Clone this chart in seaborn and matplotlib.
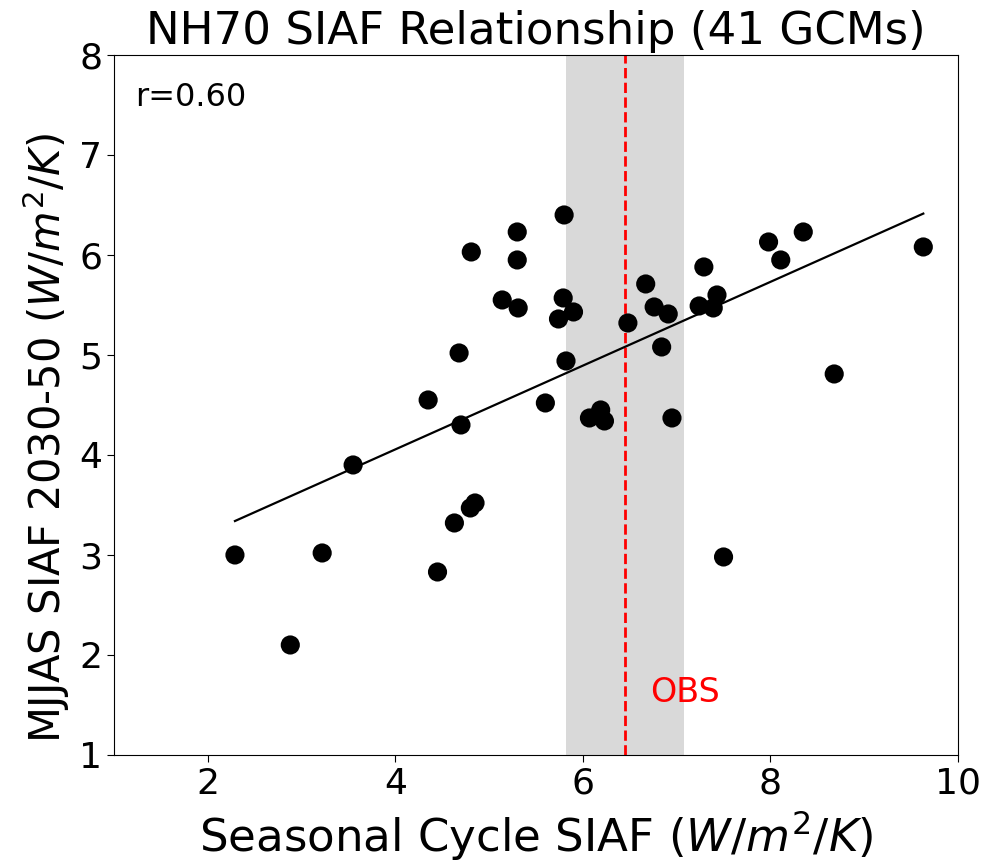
import numpy as np
import pandas as pd
import matplotlib
matplotlib.use("Agg")
import matplotlib.pyplot as plt
import seaborn as sns

# Seasonal-cycle SIAF per model (W/m2/K)
seasonal_siaf = [5.30, 4.81, 5.30, 5.14, 5.31, 4.68, 4.35, 5.60,
                 4.70, 3.55, 4.85, 4.80, 4.63, 2.29, 3.22, 4.45, 2.88,
                 5.80, 5.79, 5.90, 5.74, 5.82, 6.07, 6.19, 6.23, 6.48,
                 6.67, 6.76, 6.91, 6.84, 6.95, 7.29, 7.24, 7.43, 7.39,
                 7.98, 8.11, 8.35, 8.68, 9.63, 7.50]
# MJJAS 2030-50 SIAF per model (W/m2/K)
mjjas_siaf = [6.23, 6.03, 5.95, 5.55, 5.47, 5.02, 4.55, 4.52,
              4.30, 3.90, 3.52, 3.47, 3.32, 3.00, 3.02, 2.83, 2.10,
              6.40, 5.57, 5.43, 5.36, 4.94, 4.37, 4.45, 4.34, 5.32,
              5.71, 5.48, 5.41, 5.08, 4.37, 5.88, 5.49, 5.60, 5.47,
              6.13, 5.95, 6.23, 4.81, 6.08, 2.98]

# Observational estimate and its uncertainty range
obs_value = 6.45
obs_low, obs_high = 5.82, 7.08

df = pd.DataFrame({"seasonal": seasonal_siaf, "mjjas": mjjas_siaf})
r_value = np.corrcoef(df["seasonal"], df["mjjas"])[0, 1]

fig = plt.figure(figsize=(9.86, 8.67), dpi=100)
ax = fig.add_axes([0.1156, 0.1292, 0.856, 0.8074])

ax.axvspan(obs_low, obs_high, color="#d9d9d9", zorder=0, lw=0)
ax.axvline(obs_value, color="red", ls="--", lw=2, zorder=1)

sns.regplot(data=df, x="seasonal", y="mjjas", ax=ax, ci=None,
            scatter=False, truncate=True,
            line_kws={"color": "black", "lw": 1.6, "zorder": 2})
sns.scatterplot(data=df, x="seasonal", y="mjjas", ax=ax, color="black",
                s=190, edgecolor="none", zorder=3)

ax.set_xlim(1, 10)
ax.set_ylim(1, 8)
ax.set_xticks([2, 4, 6, 8, 10])
ax.set_yticks([1, 2, 3, 4, 5, 6, 7, 8])
ax.tick_params(labelsize=26, length=5)

ax.set_xlabel(r"Seasonal Cycle SIAF ($W/m^2/K$)", fontsize=32.5, labelpad=6)
ax.set_ylabel(r"MJJAS SIAF 2030-50 ($W/m^2/K$)", fontsize=30)
ax.yaxis.set_label_coords(-0.05, 0.453)
ax.set_title("NH70 SIAF Relationship (41 GCMs)", fontsize=32.5, pad=8)

ax.text(0.025, 0.962, f"r={r_value:.2f}", transform=ax.transAxes,
        fontsize=23, ha="left", va="top")
ax.text(6.72, 1.62, "OBS", color="red", fontsize=24, ha="left", va="center")

fig.savefig("out.png", dpi=100)
print(r_value)
